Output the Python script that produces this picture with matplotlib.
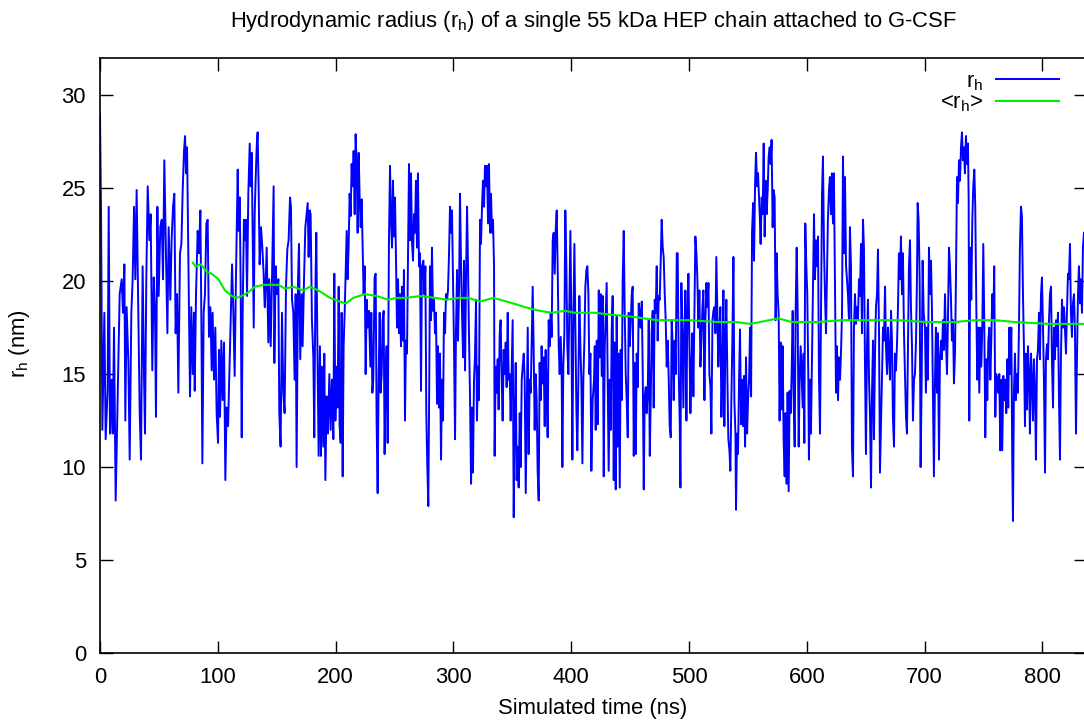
import matplotlib
matplotlib.use('Agg')
import matplotlib.pyplot as plt
import numpy as np

# r_h trace (time in ns, radius in nm)
seg1 = [(0, 29.0), (0.9, 23.6), (2.0, 12.0), (3.7, 18.3), (4.8, 11.5), (6.5, 14.1), (7.4, 24.0), (8.5, 11.8),
        (9.9, 14.7), (10.8, 11.8), (11.9, 17.5), (13.3, 8.2), (14.7, 12.9), (15.6, 15.9), (16.7, 19.3), (18.4, 20.1),
        (19.5, 18.3), (20.7, 20.9), (21.5, 12.5), (22.6, 18.6), (24.1, 15.6), (25.2, 10.4), (26.6, 18.3), (27.7, 20.1),
        (28.9, 24.0), (30.0, 20.1), (31.1, 24.9), (32.5, 18.3), (33.7, 12.9), (34.8, 10.4), (36.2, 20.8), (37.4, 14.7),
        (38.2, 11.8), (39.3, 20.1), (40.5, 25.1), (41.9, 22.2), (43.0, 23.6), (44.4, 15.2), (45.6, 20.2), (46.7, 18.3),
        (47.5, 12.7), (48.7, 24.0), (49.8, 19.2), (51.2, 22.9), (52.4, 23.3), (53.5, 20.1), (54.6, 26.5), (55.7, 22.7),
        (57.2, 17.2), (58.3, 22.9), (59.7, 19.0), (60.8, 22.2), (62.0, 24.0), (63.1, 24.7), (64.2, 17.2), (65.4, 19.3),
        (66.5, 14.0), (67.9, 21.5), (69.1, 22.0), (70.2, 24.9), (71.3, 27.0), (72.2, 27.8), (73.0, 25.8), (73.9, 27.2),
        (75.0, 21.1), (76.4, 13.8), (77.5, 18.6), (78.7, 15.0), (79.8, 18.3), (80.4, 14.1), (81.5, 19.3), (82.9, 22.7),
        (84.0, 21.5), (85.2, 23.8), (86.0, 18.3), (86.9, 10.2), (88.0, 18.3), (89.1, 19.3), (90.3, 23.1), (91.4, 23.3),
        (92.5, 17.0), (93.7, 18.6), (94.8, 15.2), (95.6, 18.3), (96.8, 14.7), (97.9, 17.5), (99.0, 12.9), (100.2, 11.3),
        (101.0, 16.3), (101.9, 12.7), (103.0, 16.8), (104.1, 13.6), (105.3, 16.7), (106.4, 9.3), (107.5, 13.2),
        (108.7, 12.2), (109.8, 15.0), (110.9, 17.7), (112.1, 20.9), (113.2, 18.3), (114.3, 14.9), (115.4, 20.1),
        (116.9, 26.0), (117.7, 22.7), (118.6, 24.5), (119.4, 19.7), (120.3, 11.6), (121.1, 18.3), (122.2, 23.3),
        (123.1, 22.2), (123.9, 23.3), (124.8, 19.2), (125.9, 24.7), (127.1, 27.4), (127.9, 25.1), (128.8, 26.9),
        (129.6, 22.7), (130.5, 17.5), (131.3, 23.6), (132.1, 25.4), (133.0, 27.2), (133.8, 28.0), (134.7, 24.9),
        (135.5, 20.9), (136.7, 22.9), (137.8, 21.8), (138.9, 20.4), (139.8, 18.6)]
seg2 = [(140.0, 18.6), (141.5, 21.8), (142.9, 16.7), (143.7, 20.1), (144.9, 16.5), (146.0, 20.1), (147.4, 25.1),
        (148.0, 15.6), (149.1, 20.8), (150.2, 19.3), (151.4, 20.1), (152.2, 12.9), (153.3, 11.1), (154.5, 18.3),
        (155.6, 14.0), (156.7, 12.9), (157.9, 19.7), (159.0, 21.7), (160.1, 22.2), (161.3, 24.5), (162.1, 24.0),
        (163.0, 19.0), (164.1, 18.3), (165.2, 14.7), (166.1, 19.3), (166.9, 10.0), (168.1, 20.1), (168.9, 22.0),
        (170.0, 15.8), (171.2, 19.3), (172.0, 16.5), (173.2, 20.1), (174.3, 22.9), (175.4, 23.6), (176.3, 24.2),
        (177.1, 21.3), (178.0, 23.8), (178.8, 23.6), (179.9, 17.9), (181.1, 15.9), (181.9, 11.6), (182.8, 19.3),
        (183.6, 22.6), (184.5, 16.8), (185.6, 10.6), (186.7, 16.5), (187.6, 10.6), (188.4, 15.4), (189.6, 11.1),
        (190.4, 16.1), (191.3, 9.3), (192.4, 13.8), (193.5, 11.8), (194.7, 15.0), (195.8, 12.0), (196.9, 14.7),
        (198.1, 11.5), (198.9, 20.4), (199.8, 12.5), (200.9, 15.4), (201.7, 13.2), (202.6, 19.7), (203.4, 12.2),
        (204.3, 11.3), (205.1, 18.3), (206.0, 9.5), (206.8, 16.5), (207.7, 18.3), (208.5, 20.4), (209.4, 22.7),
        (210.2, 20.1), (211.1, 22.0), (211.9, 24.7), (212.8, 23.5), (213.6, 26.3), (214.5, 25.1), (215.3, 27.0),
        (216.2, 23.6), (217.0, 27.9), (217.9, 26.2), (218.7, 22.6), (219.6, 26.9), (220.4, 24.5), (221.3, 22.9),
        (222.1, 24.4), (223.0, 21.8), (223.8, 19.3), (224.7, 20.8), (225.5, 15.0), (226.4, 19.0), (227.2, 17.5),
        (228.3, 18.4), (229.5, 15.4), (230.3, 18.3), (231.2, 14.0), (232.0, 14.7), (233.1, 20.2), (234.0, 20.4),
        (234.8, 12.5), (235.7, 8.6), (236.5, 14.7), (237.4, 18.3), (238.2, 14.0), (239.1, 15.0), (239.9, 17.9),
        (240.8, 18.4), (241.6, 10.7), (242.5, 15.0), (243.3, 16.5), (244.2, 11.3), (245.3, 22.2), (246.2, 26.2),
        (247.0, 23.3), (247.9, 21.8), (248.7, 25.4), (249.6, 22.4), (250.4, 24.5), (251.3, 21.1), (252.1, 17.5),
        (253.0, 20.1), (253.8, 17.2), (254.6, 19.3), (255.5, 16.5), (256.3, 19.7), (257.2, 16.8), (258.0, 20.6),
        (258.9, 12.5), (259.7, 16.8), (260.6, 16.1), (261.4, 20.8), (262.3, 26.3), (263.1, 22.2), (264.0, 25.8),
        (264.8, 22.2), (265.7, 21.1), (266.5, 23.6), (267.4, 22.6), (268.2, 25.4), (269.1, 21.8), (269.9, 25.8),
        (270.8, 20.8), (271.6, 21.5), (272.5, 14.1), (273.3, 20.8), (274.5, 21.1), (275.3, 19.3), (276.2, 20.8),
        (277.0, 12.9), (277.8, 10.2), (278.7, 7.9), (279.5, 14.7)]
seg3 = [(280.1, 20.8), (281.0, 17.9), (281.8, 21.8), (282.7, 18.4), (283.5, 19.0), (284.4, 17.2), (285.2, 18.3),
        (286.1, 13.4), (286.9, 16.5), (287.8, 13.2), (288.6, 16.1), (289.5, 10.4), (290.3, 14.7), (291.2, 12.5),
        (292.0, 18.3), (292.9, 17.2), (293.7, 19.3), (294.6, 19.0), (295.4, 19.5), (296.3, 21.5), (297.1, 24.0),
        (298.0, 22.6), (298.8, 23.8), (299.7, 20.1), (300.5, 16.5), (301.4, 11.5), (302.2, 17.4), (303.1, 20.6),
        (303.9, 16.8), (304.8, 19.5), (305.6, 24.7), (306.5, 20.8), (307.3, 18.3), (308.2, 15.9), (309.0, 21.1),
        (309.9, 15.2), (310.7, 20.1), (311.6, 24.0), (312.4, 20.8), (313.3, 16.8), (314.1, 13.8), (315.0, 9.1),
        (315.8, 13.2), (316.6, 9.7), (317.5, 14.7), (318.3, 15.9), (319.2, 19.0), (320.0, 12.5), (320.9, 15.4),
        (321.7, 13.6), (322.6, 23.3), (323.4, 22.0), (324.3, 24.0), (325.1, 25.4), (326.0, 24.0), (326.8, 26.2),
        (327.7, 25.1), (328.5, 26.2), (329.4, 23.1), (330.2, 26.3), (331.1, 22.6), (331.9, 24.7), (332.8, 22.6),
        (333.6, 23.3), (334.5, 20.8), (335.0, 10.6), (335.9, 15.4), (336.7, 14.0), (337.6, 15.8), (338.4, 13.1),
        (339.3, 17.2), (340.1, 17.9), (341.0, 14.7), (341.8, 12.5), (342.7, 16.3), (343.5, 15.0), (344.4, 16.7),
        (345.2, 14.3), (346.1, 18.3), (346.9, 14.7), (347.8, 15.0), (348.6, 12.5), (349.5, 15.4), (350.3, 17.9),
        (351.2, 7.3), (352.0, 12.5), (352.9, 15.6), (353.7, 9.3), (354.6, 11.1), (355.4, 8.9), (356.3, 12.9),
        (357.1, 10.0), (358.0, 14.7), (358.8, 15.4), (359.7, 16.1), (360.5, 14.7), (361.4, 8.6), (362.2, 12.9),
        (363.1, 17.5), (363.9, 10.7), (364.7, 14.7), (365.6, 14.0), (366.4, 16.5), (367.3, 19.7), (368.1, 16.5),
        (369.0, 12.0), (369.8, 15.0), (370.7, 13.6), (371.5, 9.8), (372.4, 8.2), (373.2, 15.6), (374.1, 13.6),
        (374.9, 16.5), (375.8, 14.5), (376.6, 15.9), (377.5, 12.2), (378.3, 16.3), (379.2, 14.1), (380.0, 11.6),
        (380.9, 17.9), (381.7, 16.5), (382.6, 18.3), (383.4, 17.0), (384.3, 22.2), (385.1, 22.6), (386.0, 20.4),
        (386.8, 22.7), (387.7, 23.8), (388.5, 20.8), (389.4, 16.5), (390.2, 15.0), (391.1, 17.0), (391.9, 15.0),
        (392.5, 10.0), (393.3, 15.4), (394.2, 17.2), (395.0, 23.8), (395.9, 20.8), (396.7, 16.5), (397.6, 15.0),
        (398.4, 18.8), (399.3, 22.7), (400.1, 18.3), (401.0, 10.4), (401.8, 17.4), (402.7, 22.0), (403.5, 17.9),
        (404.4, 13.1), (405.2, 10.9), (406.1, 14.7), (406.9, 19.2), (407.8, 16.5), (408.6, 14.7), (409.5, 10.2),
        (410.3, 14.7), (411.2, 16.8), (412.0, 19.7), (412.9, 20.6), (413.7, 20.8), (414.6, 19.3), (415.4, 15.0),
        (416.3, 16.1), (417.1, 9.8), (418.2, 13.6), (419.4, 14.7)]
seg4 = [(420.0, 16.5), (420.8, 12.0), (421.7, 16.8), (422.5, 12.3), (423.4, 19.5), (424.2, 15.9), (425.1, 19.3),
        (425.9, 14.9), (426.8, 19.2), (427.6, 9.5), (428.5, 16.5), (429.3, 18.3), (430.1, 19.9), (431.0, 14.7),
        (431.8, 9.8), (432.7, 14.7), (433.5, 12.0), (434.4, 17.4), (435.2, 19.2), (436.1, 9.3), (436.9, 16.7),
        (437.8, 8.8), (438.6, 18.1), (439.5, 11.1), (440.3, 16.1), (441.2, 8.9), (442.0, 16.3), (442.9, 13.6),
        (443.7, 20.1), (444.6, 22.7), (445.4, 18.4), (446.3, 15.0), (447.1, 13.6), (448.0, 11.6), (448.8, 18.3),
        (449.7, 16.5), (450.5, 17.7), (451.4, 19.3), (452.2, 19.7), (453.1, 10.6), (453.9, 15.6), (454.8, 10.7),
        (455.6, 16.1), (456.5, 14.3), (457.3, 18.8), (458.2, 18.3), (459.0, 17.5), (459.9, 18.9), (460.7, 15.2),
        (461.6, 8.8), (462.4, 13.8), (463.3, 14.3), (464.1, 12.9), (465.0, 14.1), (465.8, 17.9), (466.7, 10.6),
        (467.5, 13.6), (468.3, 17.2), (469.2, 18.4), (470.0, 13.2), (470.9, 19.0), (471.7, 18.3), (472.6, 20.8),
        (473.4, 16.8), (474.3, 19.2), (475.1, 19.0), (476.0, 21.1), (476.8, 23.3), (477.7, 21.8), (478.5, 21.3),
        (479.4, 19.3), (480.2, 17.9), (481.1, 15.4), (481.9, 16.8), (482.8, 14.7), (483.6, 12.2), (484.5, 11.6),
        (485.3, 17.9), (486.2, 16.5), (487.0, 13.6), (487.9, 16.8), (488.7, 15.0), (489.6, 21.5), (490.4, 21.5),
        (491.3, 15.0), (492.1, 12.5), (492.7, 8.9), (493.5, 19.9), (494.4, 17.2), (495.2, 13.2), (496.1, 17.4),
        (496.9, 19.5), (497.8, 12.5), (498.6, 18.3), (499.5, 20.4), (500.3, 16.8), (501.2, 12.9), (502.0, 15.4),
        (502.9, 17.2), (503.7, 13.8), (504.6, 18.3), (505.4, 22.4), (506.3, 21.5), (507.1, 20.1), (508.0, 17.5),
        (508.8, 19.5), (509.7, 15.4), (510.5, 16.8), (511.4, 18.6), (512.2, 19.5), (513.1, 13.6), (513.9, 17.9),
        (514.8, 19.9), (515.6, 18.6), (516.5, 19.9), (517.3, 15.0), (518.2, 14.3), (519.0, 11.8), (519.9, 17.9),
        (520.7, 18.4), (521.5, 18.6), (522.4, 17.2), (523.2, 21.3), (524.1, 18.3), (524.9, 15.4), (525.8, 17.4),
        (526.6, 18.6), (527.5, 12.7), (528.3, 15.0), (529.2, 19.5), (530.0, 12.2), (530.9, 16.8), (531.7, 19.0),
        (532.6, 14.7), (533.4, 11.5), (534.3, 10.9), (535.1, 9.8), (536.0, 13.8), (536.8, 16.8), (537.7, 21.3),
        (538.5, 13.6), (539.4, 11.8), (539.9, 7.7), (540.8, 11.8), (541.6, 10.7), (542.5, 14.7), (543.3, 17.4),
        (544.2, 12.3), (545.0, 14.7), (545.9, 12.2), (546.7, 14.9), (547.6, 11.1), (548.4, 15.9), (549.3, 11.8),
        (550.1, 13.6), (551.0, 14.7), (551.8, 17.5), (552.7, 13.8), (553.5, 22.6), (554.4, 24.2), (555.2, 21.1),
        (556.1, 25.3), (556.9, 26.9), (557.8, 25.1), (558.6, 25.8), (559.5, 24.4)]
seg5 = [(560.0, 23.6), (560.8, 22.0), (561.7, 24.5), (562.5, 23.6), (563.4, 27.4), (564.2, 22.4), (565.1, 25.4),
        (565.9, 23.6), (566.8, 24.9), (567.6, 26.7), (568.5, 27.2), (569.3, 26.3), (570.1, 27.6), (571.0, 22.9),
        (571.8, 24.9), (572.7, 24.5), (573.5, 17.9), (574.4, 21.5), (575.2, 19.3), (576.1, 18.3), (576.9, 12.5),
        (577.8, 16.7), (578.6, 13.1), (579.5, 16.5), (580.3, 11.5), (581.2, 9.5), (582.0, 12.9), (582.9, 9.1),
        (583.7, 14.0), (584.6, 8.7), (585.4, 14.1), (586.3, 12.9), (587.1, 15.0), (588.0, 18.4), (588.8, 13.8),
        (589.7, 11.1), (590.5, 18.3), (591.4, 21.8), (592.2, 18.6), (593.1, 11.1), (593.9, 14.7), (594.8, 16.5),
        (595.6, 15.0), (596.5, 13.2), (597.3, 16.1), (597.9, 11.3), (598.7, 23.1), (599.6, 20.8), (600.4, 19.3),
        (601.3, 14.7), (601.8, 10.4), (602.7, 14.7), (603.5, 11.8), (604.4, 15.9), (605.2, 19.3), (606.1, 23.6),
        (606.9, 20.1), (607.8, 22.2), (608.6, 20.8), (609.5, 22.4), (610.3, 15.0), (611.2, 11.8), (612.0, 17.9),
        (612.9, 24.7), (613.7, 26.7), (614.6, 21.7), (615.4, 19.3), (616.3, 17.2), (617.1, 20.4), (617.9, 23.3),
        (618.8, 24.9), (619.6, 25.6), (620.5, 23.6), (621.3, 25.8), (622.2, 23.1), (623.0, 25.8), (623.9, 19.7),
        (624.8, 14.0), (625.6, 16.5), (626.5, 13.6), (627.3, 15.9), (628.2, 14.7), (629.0, 16.1), (629.9, 18.3),
        (630.7, 26.7), (631.6, 21.5), (632.4, 25.6), (633.3, 20.8), (634.1, 20.1), (634.9, 19.3), (635.8, 17.9),
        (636.6, 22.9), (637.5, 20.8), (638.3, 11.1), (639.2, 9.5), (640.0, 17.4), (640.9, 19.3), (641.7, 17.7),
        (642.6, 18.6), (643.4, 17.9), (644.3, 20.1), (645.1, 19.2), (646.0, 22.0), (646.8, 17.2), (647.7, 23.3),
        (648.5, 21.8), (649.4, 15.4), (650.2, 10.7), (651.1, 16.5), (651.9, 19.0), (652.8, 14.7), (653.6, 12.9),
        (654.5, 8.9), (655.3, 13.8), (656.2, 16.8), (657.0, 11.5), (657.9, 16.1), (658.7, 18.6), (659.6, 19.3),
        (660.4, 21.7), (661.3, 17.2), (662.1, 9.7), (663.0, 12.5), (663.8, 15.0), (664.7, 17.5), (665.5, 16.8),
        (666.4, 19.7), (667.2, 16.5), (668.1, 15.0), (668.9, 17.5), (669.8, 16.1), (670.6, 14.7), (671.5, 18.4),
        (672.3, 16.8), (673.1, 12.7), (674.0, 11.1), (674.8, 16.1), (675.7, 15.2), (676.5, 16.5), (677.4, 18.6),
        (678.2, 21.5), (679.1, 20.1), (679.9, 22.4), (680.8, 19.3), (681.6, 21.5), (682.5, 17.2), (683.3, 15.0),
        (684.2, 12.7), (685.0, 11.8), (685.9, 16.5), (686.7, 20.8), (687.6, 22.2), (688.4, 18.6), (689.3, 16.5),
        (690.1, 12.5), (691.0, 14.7), (691.8, 15.0), (692.7, 16.8), (693.5, 20.1), (694.1, 24.2), (694.9, 23.3),
        (695.8, 20.1), (696.6, 10.0), (697.5, 14.7), (698.3, 21.1), (699.2, 18.3)]
seg6 = [(700.3, 17.5), (701.1, 14.0), (702.0, 17.5), (702.8, 14.7), (703.7, 21.8), (704.5, 19.3), (705.4, 21.1),
        (706.2, 18.6), (707.1, 14.0), (707.9, 9.5), (708.8, 14.7), (709.6, 17.5), (710.5, 14.0), (711.3, 17.2),
        (712.2, 10.4), (713.0, 15.8), (713.9, 16.8), (714.7, 15.8), (715.6, 17.9), (716.4, 16.3), (717.3, 19.3),
        (718.1, 16.8), (719.0, 15.0), (719.8, 17.9), (720.7, 21.8), (721.5, 20.8), (722.4, 19.0), (723.2, 16.8),
        (724.1, 17.9), (724.9, 14.5), (725.8, 16.1), (726.6, 20.1), (727.5, 25.6), (728.3, 24.2), (729.2, 26.5),
        (730.0, 25.4), (730.9, 27.2), (731.7, 28.0), (732.5, 26.5), (733.4, 27.2), (734.2, 25.8), (735.1, 27.8),
        (735.9, 26.3), (736.8, 27.4), (737.4, 24.4), (737.9, 12.5), (738.8, 21.8), (739.6, 19.0), (740.5, 23.3),
        (741.3, 25.1), (742.2, 26.0), (743.0, 24.0), (743.9, 18.6), (744.7, 14.7), (745.6, 17.5), (746.4, 14.0),
        (747.3, 17.5), (748.1, 15.4), (749.0, 17.5), (749.8, 22.0), (750.7, 17.5), (751.5, 11.6), (752.4, 15.8),
        (753.2, 13.6), (754.1, 16.8), (754.9, 17.5), (755.8, 14.7), (756.6, 16.8), (757.4, 19.3), (758.3, 17.9),
        (759.1, 20.8), (760.0, 12.7), (760.8, 15.0), (761.7, 14.7), (762.5, 14.0), (763.4, 15.0), (764.2, 10.9),
        (765.1, 14.7), (765.9, 10.9), (766.8, 14.9), (767.6, 13.6), (768.5, 14.7), (769.3, 12.9), (770.2, 15.8),
        (771.0, 13.2), (771.9, 17.5), (772.7, 15.0), (773.6, 17.5), (774.4, 10.4), (775.0, 7.1), (775.8, 14.0),
        (776.7, 16.1), (777.5, 13.6), (778.4, 15.0), (779.2, 14.0), (780.1, 17.5), (780.9, 21.8), (781.8, 24.0),
        (782.6, 23.5), (783.5, 19.3), (784.3, 16.5), (785.2, 12.2), (786.0, 16.1), (786.9, 13.1), (787.7, 16.5),
        (788.6, 15.0), (789.4, 11.8), (790.3, 16.1), (791.1, 14.7), (792.0, 12.5), (792.8, 15.8), (793.7, 14.0),
        (794.5, 10.4), (795.4, 15.8), (796.2, 16.3), (797.1, 18.3), (797.9, 15.8), (798.8, 19.3), (799.6, 20.2),
        (800.5, 17.5), (801.3, 14.7), (802.2, 9.7), (803.0, 15.8), (803.9, 16.6), (804.7, 15.8), (805.6, 17.9),
        (806.4, 19.3), (807.3, 19.7), (808.1, 15.8), (809.0, 13.2), (809.8, 17.5), (810.6, 15.8), (811.5, 17.9),
        (812.3, 16.5), (813.2, 18.3), (814.0, 14.0), (814.9, 10.4), (815.7, 15.8), (816.6, 19.0), (817.4, 17.5),
        (818.3, 18.6), (819.1, 17.5), (820.0, 16.1), (820.8, 18.3), (821.7, 20.4), (822.5, 20.1), (823.4, 22.0),
        (824.2, 18.3), (825.1, 17.0), (825.9, 18.8), (826.8, 19.3), (827.6, 17.5), (828.5, 11.8), (829.3, 15.8),
        (830.2, 19.3), (831.0, 20.8), (831.9, 18.8), (832.7, 20.1), (833.6, 18.3), (834.4, 21.8), (835.3, 22.6)]

# running average <r_h>
avg_time = [78.7, 81, 85.7, 90.6, 94.8, 100.5, 106.1, 111.8, 116.0, 120.3, 125.9, 131.6, 138.7, 151.4, 157,
            164, 172.6, 178.2, 185.3, 195.2, 203.7, 208.8, 215, 225, 234.8, 244.7, 251.8, 260.3, 271.6, 284.4,
            294.3, 304.2, 312.7, 322.6, 333.9, 350.9, 360.8, 373.5, 383.4, 394.7, 403.2, 419.7, 433, 450,
            472.6, 483.9, 500.9, 523.5, 540.5, 551.8, 560.3, 575.8, 587.1, 609.8, 629.6, 655, 677.7, 700.3,
            725.8, 742.7, 759.7, 776.7, 805, 835.3]
avg_rh = [21.0, 20.8, 20.9, 20.5, 20.4, 20.1, 19.5, 19.2, 19.1, 19.2, 19.4, 19.7, 19.8, 19.8, 19.6,
          19.7, 19.5, 19.7, 19.5, 19.1, 18.9, 18.8, 19.1, 19.3, 19.2, 19.0, 19.1, 19.1, 19.2, 19.1,
          19.0, 19.1, 19.1, 18.9, 19.1, 18.8, 18.6, 18.4, 18.3, 18.4, 18.3, 18.3, 18.2, 18.1,
          17.9, 17.9, 17.9, 17.8, 17.8, 17.7, 17.8, 18.0, 17.8, 17.8, 17.9, 17.9, 17.9, 17.8,
          17.8, 17.9, 17.9, 17.8, 17.7, 17.7]

trace = np.array(seg1 + seg2 + seg3 + seg4 + seg5 + seg6)
time_ns = trace[:, 0]
rh_nm = trace[:, 1]

plt.rcParams['font.family'] = ['Liberation Sans', 'DejaVu Sans']
plt.rcParams['mathtext.fontset'] = 'custom'
plt.rcParams['mathtext.rm'] = 'Liberation Sans'
fs = 15.8

W, H = 1084, 721
fig = plt.figure(figsize=(W / 100, H / 100), dpi=100)
ax = fig.add_axes([100 / W, 1 - 653 / H, 986 / W, 595 / H])

ax.plot(time_ns, rh_nm, color='#0000ff', lw=1.4, label=r'$\mathregular{r_h}$')
ax.plot(avg_time, avg_rh, color='#00ee00', lw=1.5, label=r'<$\mathregular{r_h}$>')

ax.set_xlim(0, 837)
ax.set_ylim(0, 32)
ax.set_xticks(range(0, 801, 100))
ax.set_yticks(range(0, 31, 5))
ax.tick_params(direction='in', length=9, width=1, top=True, right=True, labelsize=fs, pad=10)
for s in ax.spines.values():
    s.set_linewidth(1.2)

ax.set_xlabel('Simulated time (ns)', fontsize=fs, labelpad=7)
ax.set_ylabel(r'$\mathregular{r_h}$ (nm)', fontsize=fs)
ax.yaxis.set_label_coords(-68 / 986, 0.52)
ax.set_title(r'Hydrodynamic radius ($\mathregular{r_h}$) of a single 55 kDa HEP chain attached to G-CSF',
             fontsize=fs, pad=22)

ax.legend(loc='upper right', frameon=False, markerfirst=False, fontsize=fs,
          handlelength=2.85, handletextpad=0.6, labelspacing=0.0, borderaxespad=0.2,
          bbox_to_anchor=(1 - 14 / 986, 1.0))

fig.savefig('out.png', dpi=100)
